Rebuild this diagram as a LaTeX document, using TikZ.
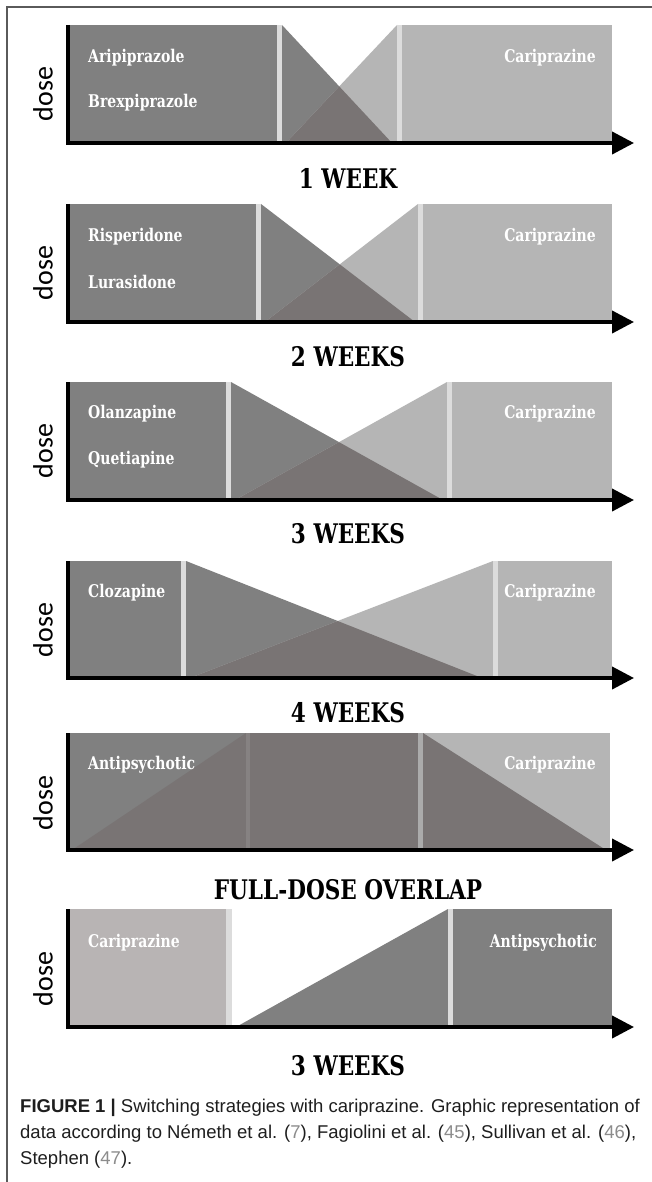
\documentclass[tikz,border=0pt]{standalone}
\usepackage{fontspec}
\usetikzlibrary{arrows.meta}
\newfontfamily\labfont[FakeStretch=0.8]{DejaVu Serif}
\newfontfamily\dosefont{Carlito}
\newfontfamily\capfont{Liberation Sans}
\definecolor{darkg}{HTML}{808080}
\definecolor{lightg}{HTML}{B5B5B5}
\definecolor{overg}{HTML}{797474}
\definecolor{sepg}{HTML}{DCDCDC}
\definecolor{frameg}{HTML}{5A5A5A}
\definecolor{refg}{HTML}{8C8C8C}
\definecolor{capg}{HTML}{1E1E1E}
\definecolor{cari6}{HTML}{B8B4B4}
\definecolor{sep5a}{HTML}{868282}
\definecolor{sep5b}{HTML}{ABABAB}
\tikzset{
  inlab/.style={font=\labfont\bfseries\fontsize{17.5}{17.5}\selectfont, text=white, inner sep=0pt},
  ttl/.style={font=\labfont\bfseries\fontsize{27}{27}\selectfont, text=black, inner sep=0pt},
  doselab/.style={font=\dosefont\fontsize{28}{28}\selectfont, rotate=90, inner sep=0pt},
  capline/.style={font=\capfont\fontsize{18.5}{18.5}\selectfont, text=capg, inner sep=0pt, anchor=base west},
  axisline/.style={line width=4pt, black},
}
\newcommand{\axes}[2]{% #1 top, #2 bottom
  \coordinate (ax0) at (68,#1);
  \coordinate (ax1) at (68,#2);
  \coordinate (ax2) at (634,#2);
  \draw[axisline] (ax0) -- ([yshift=-2pt]ax1);
  \draw[axisline, -{Triangle[length=22pt,width=22pt]}] (66,#2) -- (ax2);
}
\newcommand{\swpanel}[5]{% #1 T, #2 B, #3 box end, #4 desc end, #5 asc peak
  \fill[darkg] (70,#1) rectangle (#3,#2);
  \fill[sepg] (#3,#1) rectangle ({#3+5},#2);
  \coordinate (d0) at ({#3+5},#1);
  \coordinate (d1) at (#4,#2);
  \coordinate (a0) at ({#3+9},#2);
  \coordinate (a1) at (#5,#1);
  \fill[darkg] (d0) -- ({#3+5},#2) -- (d1) -- cycle;
  \fill[lightg] (a0) -- (a1) -- (#5,#2) -- cycle;
  \fill[overg] (a0) -- (intersection of d0--d1 and a0--a1) -- (d1) -- cycle;
  \fill[sepg] (#5,#1) rectangle ({#5+5},#2);
  \fill[lightg] ({#5+5},#1) rectangle (612,#2);
  \axes{#1}{#2}
}
\begin{document}
\begin{tikzpicture}[x=1pt,y=-1pt]
\useasboundingbox[fill=white] (0,0) rectangle (652,1182);
% frame
\draw[frameg, line width=1.5pt] (652,7) -- (7,7) -- (7,1182);

% panel 1
\swpanel{25}{143}{277}{392}{397}
\node[inlab, anchor=base west] (p1a) at (88,63) {Aripiprazole};
\node[inlab, anchor=base west] (p1b) at (88,108) {Brexpiprazole};
\node[inlab, anchor=base east] (p1c) at (596,63) {Cariprazine};
\node[doselab] (d1) at (43,94) {dose};
\node[ttl] (t1) at (348,178) {1 WEEK};

% panel 2
\swpanel{204}{322}{256}{415}{418}
\node[inlab, anchor=base west] (p2a) at (88,242) {Risperidone};
\node[inlab, anchor=base west] (p2b) at (88,288) {Lurasidone};
\node[inlab, anchor=base east] (p2c) at (596,242) {Cariprazine};
\node[doselab] (d2) at (43,273) {dose};
\node[ttl] (t2) at (348,357) {2 WEEKS};

% panel 3
\swpanel{382}{500}{226}{443}{447}
\node[inlab, anchor=base west] (p3a) at (88,418) {Olanzapine};
\node[inlab, anchor=base west] (p3b) at (88,464) {Quetiapine};
\node[inlab, anchor=base east] (p3c) at (596,418) {Cariprazine};
\node[doselab] (d3) at (43,451) {dose};
\node[ttl] (t3) at (348,534) {3 WEEKS};

% panel 4
\swpanel{561}{678}{181}{482}{493}
\node[inlab, anchor=base west] (p4a) at (88,597) {Clozapine};
\node[inlab, anchor=base east] (p4c) at (596,597) {Cariprazine};
\node[doselab] (d4) at (43,630) {dose};
\node[ttl] (t4) at (348,713) {4 WEEKS};

% panel 5
\fill[darkg] (70,733) rectangle (610,850);
\fill[overg] (72,850) -- (246,733) -- (246,850) -- cycle;
\fill[sep5a] (246,733) rectangle (250,850);
\fill[overg] (250,733) rectangle (418,850);
\fill[sep5b] (418,733) rectangle (423,850);
\fill[lightg] (423,733) rectangle (610,850);
\fill[overg] (423,733) -- (606,850) -- (423,850) -- cycle;
\axes{733}{850}
\node[inlab, anchor=base west] (p5a) at (88,769) {Antipsychotic};
\node[inlab, anchor=base east] (p5c) at (596,769) {Cariprazine};
\node[doselab] (d5) at (43,803) {dose};
\node[ttl] (t5) at (348,890) {FULL-DOSE OVERLAP};

% panel 6
\fill[cari6] (70,909) rectangle (226,1027);
\fill[sepg] (226,909) rectangle (232,1027);
\fill[darkg] (236,1027) -- (448,909) -- (448,1027) -- cycle;
\fill[sepg] (448,909) rectangle (453,1027);
\fill[darkg] (453,909) rectangle (612,1027);
\axes{909}{1027}
\node[inlab, anchor=base west] (p6a) at (88,947) {Cariprazine};
\node[inlab, anchor=base east] (p6c) at (597,947) {Antipsychotic};
\node[doselab] (d6) at (43,979) {dose};
\node[ttl] (t6) at (348,1066) {3 WEEKS};

% caption
\node[capline] (c1) at (20,1112) {\bfseries FIGURE 1 \textbar\ \mdseries Switching strategies with cariprazine. Graphic representation of};
\node[capline] (c2) at (20,1138) {data according to Németh et al. ({\color{refg}7}), Fagiolini et al. ({\color{refg}45}), Sullivan et al. ({\color{refg}46}),};
\node[capline] (c3) at (20,1164) {Stephen ({\color{refg}47}).};
\end{tikzpicture}
\end{document}
